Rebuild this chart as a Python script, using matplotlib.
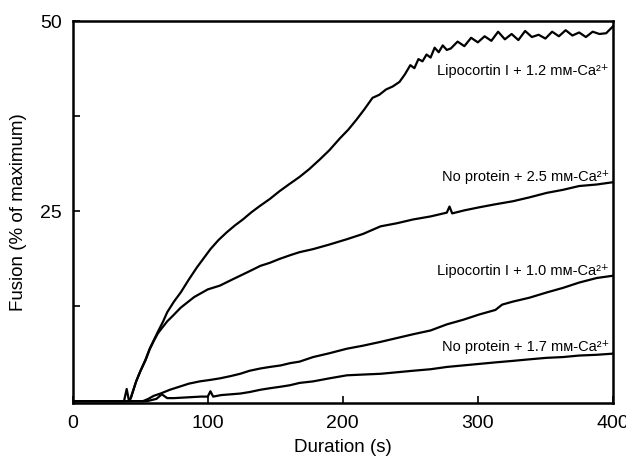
import numpy as np
from matplotlib import pyplot as plt

plt.rcParams['font.family'] = ['Liberation Sans', 'DejaVu Sans']

# lipocortin I + 1.2 mM Ca2+
lipo12_x = [0, 38, 40, 41.5, 43, 47, 50, 54, 57, 60, 63, 67, 70, 75, 80, 86, 92, 97,
            102, 108, 114, 120, 126, 132, 138, 146, 153, 160, 168, 175, 183, 190, 198,
            204, 210, 216, 222, 227, 232, 237, 242, 246, 248, 250, 253, 256, 259, 262,
            265, 268, 271, 274, 277, 280, 285, 290, 295, 300, 305, 310, 315, 320, 325,
            330, 335, 340, 345, 350, 355, 360, 365, 370, 375, 380, 385, 390, 395, 400]
lipo12_y = [0, 0, 1.6, 0.2, 0.4, 2.6, 3.9, 5.5, 6.9, 8.0, 9.1, 10.5, 11.7, 13.1, 14.3,
            16.0, 17.6, 18.8, 20.0, 21.2, 22.2, 23.1, 23.9, 24.8, 25.6, 26.6, 27.6, 28.5,
            29.5, 30.5, 31.8, 33.0, 34.6, 35.7, 37.0, 38.4, 39.9, 40.3, 41.0, 41.4, 42.0,
            43.0, 43.6, 44.2, 43.8, 45.0, 44.7, 45.6, 45.2, 46.5, 45.9, 46.8, 46.2, 46.4,
            47.3, 46.7, 47.8, 47.2, 48.0, 47.4, 48.6, 47.6, 48.3, 47.5, 48.7, 47.9, 48.2,
            47.7, 48.6, 48.0, 48.8, 48.1, 48.5, 47.9, 48.6, 48.3, 48.4, 49.3]

# no protein + 2.5 mM Ca2+
nop25_x = [0, 42, 43, 47, 50, 54, 57, 60, 63, 66, 70, 74, 80, 85, 90, 95, 100, 109, 117,
           124, 131, 139, 146, 153, 161, 168, 178, 190, 203, 215, 228, 240, 252, 265,
           277, 279, 281, 290, 301, 313, 326, 338, 351, 363, 375, 388, 400]
nop25_y = [0, 0, 0.4, 2.6, 3.9, 5.4, 6.8, 7.9, 8.9, 9.6, 10.5, 11.2, 12.3, 13.0, 13.7,
           14.2, 14.7, 15.2, 15.9, 16.5, 17.1, 17.8, 18.2, 18.7, 19.2, 19.6, 20.0, 20.6,
           21.3, 22.0, 23.0, 23.4, 23.9, 24.3, 24.8, 25.6, 24.7, 25.1, 25.5, 25.9, 26.3,
           26.8, 27.4, 27.8, 28.3, 28.5, 28.8]

# lipocortin I + 1.0 mM Ca2+
lipo10_x = [0, 52, 56, 60, 65, 72, 79, 86, 94, 102, 109, 117, 124, 131, 139, 146, 154,
            161, 168, 178, 190, 203, 215, 228, 240, 252, 265, 277, 289, 301, 313, 318,
            326, 338, 351, 363, 375, 388, 400]
lipo10_y = [0, 0, 0.3, 0.7, 1.0, 1.5, 1.9, 2.3, 2.6, 2.8, 3.0, 3.3, 3.6, 4.0, 4.3, 4.5,
            4.7, 5.0, 5.2, 5.8, 6.3, 6.9, 7.3, 7.8, 8.3, 8.8, 9.3, 10.1, 10.7, 11.4, 12.0,
            12.7, 13.1, 13.6, 14.3, 14.9, 15.6, 16.2, 16.5]

# no protein + 1.7 mM Ca2+
nop17_x = [0, 55, 62, 66, 70, 75, 85, 95, 100, 102, 104, 110, 117, 124, 131, 139, 146,
           154, 161, 168, 178, 190, 203, 215, 228, 240, 252, 265, 277, 289, 301, 313,
           326, 338, 351, 363, 375, 388, 400]
nop17_y = [0, 0, 0.3, 0.9, 0.4, 0.4, 0.5, 0.6, 0.6, 1.3, 0.6, 0.8, 0.9, 1.0, 1.2, 1.5,
           1.7, 1.9, 2.1, 2.4, 2.6, 3.0, 3.4, 3.5, 3.6, 3.8, 4.0, 4.2, 4.5, 4.7, 4.9, 5.1,
           5.3, 5.5, 5.7, 5.8, 6.0, 6.1, 6.25]

labels = ['Lipocortin I + 1.2 m\u1d0d-Ca\u00b2\u207a',
          'No protein + 2.5 m\u1d0d-Ca\u00b2\u207a',
          'Lipocortin I + 1.0 m\u1d0d-Ca\u00b2\u207a',
          'No protein + 1.7 m\u1d0d-Ca\u00b2\u207a']
label_y = [43.4, 29.5, 17.1, 7.1]

fig = plt.figure(figsize=(6.26, 4.62), dpi=100)
ax = fig.add_axes([0.1161, 0.1284, 0.863, 0.826])

for xs, ys in [(lipo12_x, lipo12_y), (nop25_x, nop25_y),
               (lipo10_x, lipo10_y), (nop17_x, nop17_y)]:
    ax.plot(xs, ys, color='black', lw=1.6, solid_joinstyle='round')

for txt, yy in zip(labels, label_y):
    ax.text(397, yy, txt, ha='right', va='center', fontsize=10.5)

ax.set_xlim(0, 400)
ax.set_ylim(-0.2, 50)
ax.set_xticks([0, 100, 200, 300, 400])
ax.set_yticks([12.5, 25, 37.5, 50])
ax.set_yticklabels(['', '25', '', '50'])
ax.tick_params(direction='in', length=5, width=1.2, labelsize=14, pad=8)
ax.tick_params(axis='x', pad=9)
for s in ax.spines.values():
    s.set_linewidth(1.8)

ax.set_xlabel('Duration (s)', fontsize=13.5, labelpad=5)
ax.set_ylabel('Fusion (% of maximum)', fontsize=13.5, labelpad=9)

fig.savefig('out.png', dpi=100)
